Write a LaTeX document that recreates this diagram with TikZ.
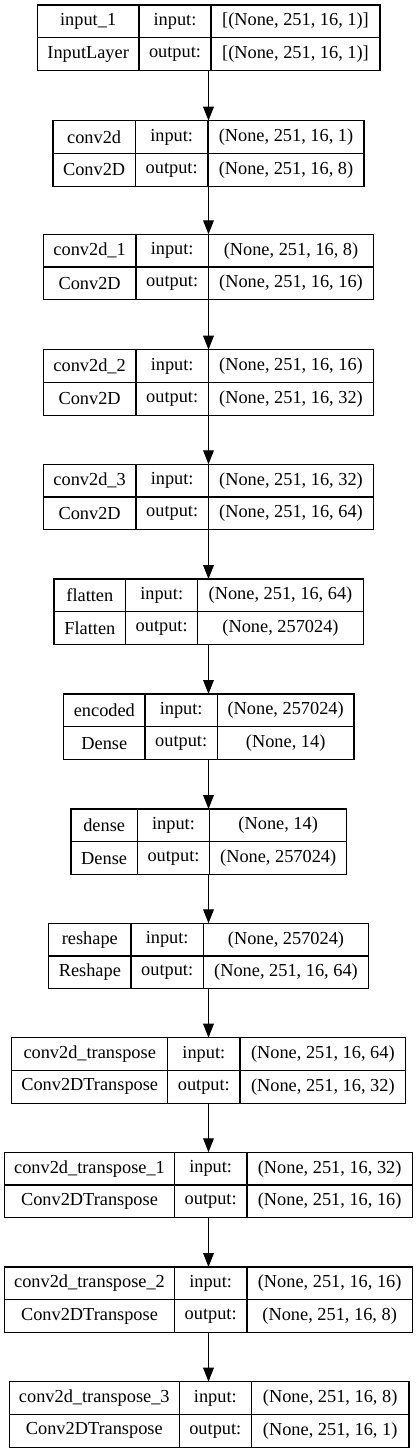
\documentclass[tikz,border=0pt]{standalone}
\usepackage{fontspec}
\setmainfont{Liberation Serif}
\usetikzlibrary{arrows.meta}
\tikzset{
  cell/.style={inner sep=0pt, outer sep=0pt, font=\fontsize{13.75}{16}\selectfont, anchor=center},
  frame/.style={draw, line width=1pt, inner sep=0pt, outer sep=0pt, anchor=north west, rectangle},
  sep/.style={line width=1pt},
  arr/.style={-{Triangle[length=10.5pt,width=8pt]}, line width=1pt},
}
\newcommand\nnlayer[9]{\def\Lname{#1}\def\Ly{#2}\def\La{#3}\def\Lb{#4}\def\Lc{#5}\def\Ld{#6}\def\Lt{#7}\def\Lk{#8}\def\Li{#9}\nnlayerfinish}
\newcommand\nnlayerfinish[1]{%
  \pgfmathsetmacro\Lw{(\Ld-\La)*0.75}%
  \pgfmathsetmacro\Lm{\Ly+32.75}%
  \pgfmathsetmacro\Lyb{\Ly+65.5}%
  \pgfmathsetmacro\Lra{\Ly+16.4}%
  \pgfmathsetmacro\Lrb{\Ly+49.1}%
  \pgfmathsetmacro\Lxa{(\La+\Lb)/2}%
  \pgfmathsetmacro\Lxb{(\Lb+\Lc)/2}%
  \pgfmathsetmacro\Lxc{(\Lc+\Ld)/2}%
  \node[frame, minimum width=\Lw pt, minimum height=49.125pt] (\Lname) at (\La,\Ly) {};
  \draw[sep] (\Lb,\Ly) -- (\Lb,\Lyb) (\Lc,\Ly) -- (\Lc,\Lyb) (\La,\Lm) -- (\Ld,\Lm);
  \node[cell] (\Lname-name) at (\Lxa,\Lra) {\Lt};
  \node[cell] (\Lname-class) at (\Lxa,\Lrb) {\Lk};
  \node[cell] (\Lname-inl) at (\Lxb,\Lra) {input:};
  \node[cell] (\Lname-outl) at (\Lxb,\Lrb) {output:};
  \node[cell] (\Lname-in) at (\Lxc,\Lra) {\Li};
  \node[cell] (\Lname-out) at (\Lxc,\Lrb) {#1};
}
\begin{document}
\begin{tikzpicture}[x=0.75pt,y=-0.75pt]
\useasboundingbox (0,0) rectangle (418,1453);
\coordinate (ax) at (208.5,0);
\nnlayer{b0}{5}{37.3}{139}{211}{380}{input\_1}{InputLayer}{[(None, 251, 16, 1)]}{[(None, 251, 16, 1)]}
\nnlayer{b1}{120.7}{53}{135.3}{208}{364}{conv2d}{Conv2D}{(None, 251, 16, 1)}{(None, 251, 16, 8)}
\nnlayer{b2}{234.3}{43.3}{136}{208.3}{373.7}{conv2d\_1}{Conv2D}{(None, 251, 16, 8)}{(None, 251, 16, 16)}
\nnlayer{b3}{349.7}{43.3}{136}{208.3}{373.7}{conv2d\_2}{Conv2D}{(None, 251, 16, 16)}{(None, 251, 16, 32)}
\nnlayer{b4}{464.3}{43.3}{136}{208.3}{373.7}{conv2d\_3}{Conv2D}{(None, 251, 16, 32)}{(None, 251, 16, 64)}
\nnlayer{b5}{579}{54}{125.7}{197.7}{363.3}{flatten}{Flatten}{(None, 251, 16, 64)}{(None, 257024)}
\nnlayer{b6}{694}{63.7}{145}{217.3}{354}{encoded}{Dense}{(None, 257024)}{(None, 14)}
\nnlayer{b7}{809}{71}{137.3}{209.7}{346.7}{dense}{Dense}{(None, 14)}{(None, 257024)}
\nnlayer{b8}{923.3}{48.7}{131}{203.3}{368.7}{reshape}{Reshape}{(None, 257024)}{(None, 251, 16, 64)}
\nnlayer{b9}{1037.7}{11.7}{167.7}{240}{405.7}{conv2d\_transpose}{Conv2DTranspose}{(None, 251, 16, 64)}{(None, 251, 16, 32)}
\nnlayer{b10}{1152.3}{4.7}{174.3}{247}{412.3}{conv2d\_transpose\_1}{Conv2DTranspose}{(None, 251, 16, 32)}{(None, 251, 16, 16)}
\nnlayer{b11}{1267}{4.7}{174.3}{247}{412.3}{conv2d\_transpose\_2}{Conv2DTranspose}{(None, 251, 16, 16)}{(None, 251, 16, 8)}
\nnlayer{b12}{1381.7}{9.3}{179.3}{251.3}{409}{conv2d\_transpose\_3}{Conv2DTranspose}{(None, 251, 16, 8)}{(None, 251, 16, 1)}
\foreach \p/\q in {b0/b1,b1/b2,b2/b3,b3/b4,b4/b5,b5/b6,b6/b7,b7/b8,b8/b9,b9/b10,b10/b11,b11/b12}{
  \draw[arr] (ax |- \p.south) -- (ax |- \q.north);
}
\end{tikzpicture}
\end{document}
